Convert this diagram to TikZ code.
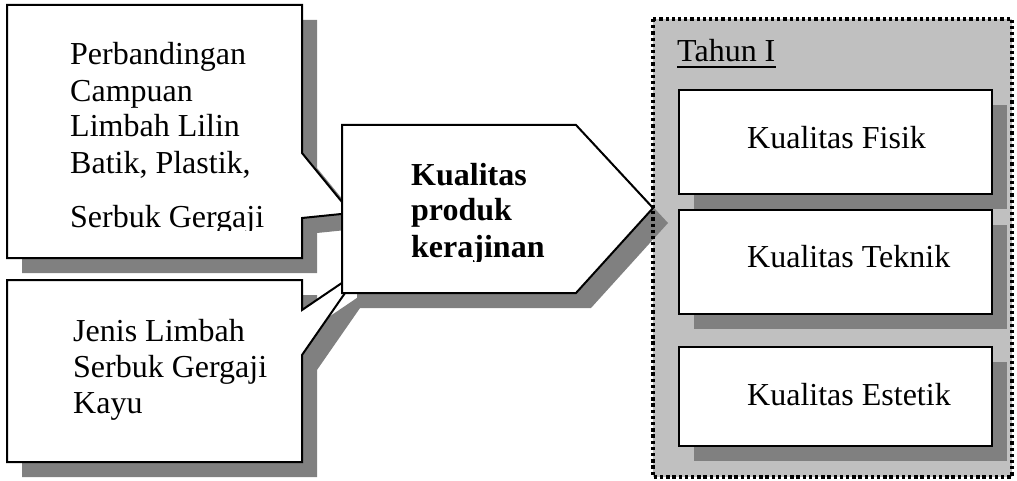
\documentclass[tikz,border=0pt]{standalone}
\usepackage{fontspec}
\setmainfont{Liberation Serif}
\usetikzlibrary{shadows}
\definecolor{shade}{HTML}{808080}
\definecolor{panel}{HTML}{C0C0C0}
\begin{document}
\begin{tikzpicture}[x=1pt,y=-1pt,
  outline/.style={draw=black, line width=2pt, fill=white, line join=miter},
  shadowed/.style={drop shadow={shadow xshift=15pt, shadow yshift=-15pt, fill=shade, opacity=1}},
  txt/.style={font=\fontsize{32}{36}\selectfont, inner sep=0pt, anchor=base west, align=left},
  btxt/.style={txt, font=\fontsize{32}{36}\selectfont\bfseries},
  qbox/.style={outline, shadowed, anchor=north west, inner sep=0pt, minimum width=313pt},
]
\useasboundingbox (0,0) rectangle (1017,481);

% year panel with its three quality boxes
\fill[panel] (653,19) rectangle (1012,477);
\node[txt] (tahun) at (677,62) {Tahun I};
\draw[line width=1.5pt] ([yshift=-5pt]tahun.base west) -- ([yshift=-5pt]tahun.base east);

\node[qbox, minimum height=104pt] (fisik) at (678,89) {};
\node[txt] (fisikT) at (747,149) {Kualitas Fisik};

\node[qbox, minimum height=104pt] (teknik) at (678,209) {};
\node[txt] (teknikT) at (747,267) {Kualitas Teknik};

\node[qbox, minimum height=99pt] (estetik) at (678,346) {};
\node[txt] (estetikT) at (747,405) {Kualitas Estetik};

% callout: mixture ratio (the base anchor sits on the last line)
\coordinate (tipA) at (351,213);
\path[outline, shadowed] (7,5) -- (302,5) -- (302,153) -- (tipA) -- (302,218)
  -- (302,258) -- (7,258) -- cycle;
\begin{scope}
  \clip (0,0) rectangle (340,230);
  \node[txt] (mix) at (70,227) {Perbandingan\\Campuan\\Limbah Lilin\\Batik, Plastik,\\[18pt]Serbuk Gergaji};
\end{scope}

% callout: sawdust type
\coordinate (tipB) at (361,270);
\path[outline, shadowed] (7,280) -- (302,280) -- (302,310) -- (tipB) -- (302,355)
  -- (302,462) -- (7,462) -- cycle;
\node[txt] (jenis) at (73,413) {Jenis Limbah\\Serbuk Gergaji\\Kayu};

% central arrow
\path[outline, shadowed] (342,125) -- (576,125) -- (653,208) -- (576,293)
  -- (342,293) -- cycle;
\begin{scope}
  \clip (342,125) rectangle (653,261);
  \node[btxt] (produk) at (411,257) {Kualitas\\produk\\kerajinan};
\end{scope}

% square-dotted frame of the panel
\draw[line width=3.5pt, dash pattern=on 3.3pt off 2.9pt] (653,19) rectangle (1012,477);
\end{tikzpicture}
\end{document}
